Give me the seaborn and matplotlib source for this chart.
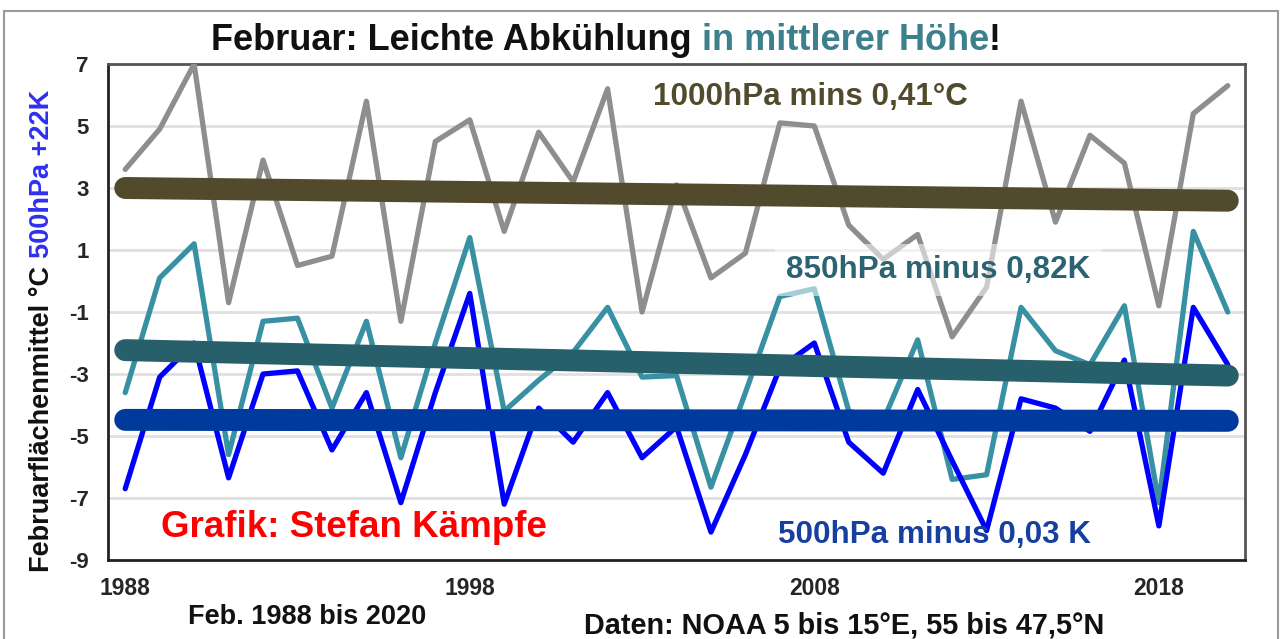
import numpy as np
import pandas as pd
import matplotlib
matplotlib.use("Agg")
import matplotlib.pyplot as plt
import seaborn as sns
from matplotlib.patches import Rectangle

# ---------------- data ----------------
years = list(range(1988, 2021))
t1000 = [3.6, 4.9, 7.0, -0.7, 3.9, 0.5, 0.8, 5.8, -1.3, 4.5, 5.2,
         1.6, 4.8, 3.2, 6.2, -1.0, 3.1, 0.1, 0.9, 5.1, 5.0,
         1.8, 0.7, 1.5, -1.8, -0.2, 5.8, 1.9, 4.7, 3.8, -0.8, 5.4, 6.3]
t850 = [-3.6, 0.1, 1.2, -5.6, -1.3, -1.2, -4.1, -1.3, -5.7, -2.0, 1.4,
        -4.2, -3.2, -2.3, -0.85, -3.1, -3.05, -6.65, -3.6, -0.5, -0.25,
        -4.2, -4.5, -1.9, -6.4, -6.25, -0.85, -2.25, -2.7, -0.8, -7.15, 1.6, -1.0]
t500 = [-6.7, -3.1, -2.0, -6.35, -3.0, -2.9, -5.45, -3.6, -7.15, -3.6, -0.4,
        -7.2, -4.1, -5.2, -3.6, -5.7, -4.7, -8.1, -5.6, -2.8, -2.0,
        -5.2, -6.2, -3.5, -5.8, -8.05, -3.8, -4.1, -4.85, -2.55, -7.9, -0.85, -2.7]
trend_years = [1988, 2020]
trend1000 = [3.0, 2.59]
trend850 = [-2.23, -3.05]
trend500 = [-4.48, -4.51]
yticks = list(range(-9, 8, 2))
xtick_label_years = [1988, 1998, 2008, 2018]
xtick_labels = ["1988", "1998", "2008", "2018"]

title_parts = ["Februar: Leichte Abkühlung ", "in mittlerer Höhe", "!"]
ylabel_parts = ["Februarflächenmittel °C ", "500hPa +22K"]
label1000 = "1000hPa mins 0,41°C"
label850 = "850hPa minus 0,82K"
label500 = "500hPa minus 0,03 K"
credit = "Grafik: Stefan Kämpfe"
period = "Feb. 1988 bis 2020"
source = "Daten: NOAA 5 bis 15°E, 55 bis 47,5°N"

# ---------------- style ----------------
sns.set_style("white")
plt.rcParams['font.family'] = ['Liberation Sans', 'DejaVu Sans']

W, H = 1283, 639
fig = plt.figure(figsize=(W / 100, H / 100), dpi=100)
ax = fig.add_axes([108 / W, 1 - 560 / H, (1245 - 108) / W, (560 - 64) / H])

c_gray = "#8e8e8e"
c_teal = "#3891a2"
c_blue = "#0000ff"
c_tr1000 = "#514a2d"
c_tr850 = "#275f6b"
c_tr500 = "#003a9c"

df = pd.DataFrame({"year": years, "t1000": t1000, "t850": t850, "t500": t500})
sns.lineplot(data=df, x="year", y="t1000", color=c_gray, lw=3.8, ax=ax, zorder=3)
sns.lineplot(data=df, x="year", y="t850", color=c_teal, lw=3.8, ax=ax, zorder=4)
sns.lineplot(data=df, x="year", y="t500", color=c_blue, lw=3.8, ax=ax, zorder=5)

tr = pd.DataFrame({"year": trend_years, "a": trend1000, "b": trend850, "c": trend500})
for col, colr in (("a", c_tr1000), ("b", c_tr850), ("c", c_tr500)):
    sns.lineplot(data=tr, x="year", y=col, color=colr, lw=15.8, ax=ax,
                 solid_capstyle="round", zorder=6)

ax.set_xlim(1987.5, 2020.5)
ax.set_ylim(-9, 7)
ax.set_yticks(yticks)
ax.set_yticklabels([str(v) for v in yticks], fontsize=16, fontweight="bold")
ax.set_xticks([y - 0.5 for y in xtick_label_years])
ax.set_xticklabels([])
ax.set_xticks(xtick_label_years, minor=True)
ax.set_xticklabels(xtick_labels, minor=True, fontsize=16.5, fontweight="bold")
ax.tick_params(axis="x", which="major", direction="out", length=8, width=1.5, color="#333333")
ax.tick_params(axis="x", which="minor", length=0, pad=12)
ax.tick_params(axis="y", direction="out", length=8, width=1.5, color="#333333", pad=6)
ax.set_xlabel("")
ax.set_ylabel("")
ax.grid(axis="y", color="#e0e0e0", lw=2)
ax.grid(axis="x", visible=False)
ax.set_axisbelow(True)
for side in ("left", "bottom"):
    ax.spines[side].set_color("#222222")
    ax.spines[side].set_linewidth(2)
for side in ("top", "right"):
    ax.spines[side].set_color("#555555")
    ax.spines[side].set_linewidth(2)

# in-plot labels
ax.text(2007.9, 5.94, label1000, color=c_tr1000, fontsize=22.6, fontweight="bold",
        ha="center", va="center", zorder=8)
ax.text(2011.6, 0.35, label850, color="#2b6373", fontsize=22.6, fontweight="bold",
        ha="center", va="center", zorder=8,
        bbox=dict(boxstyle="square,pad=0.35", fc="white", ec="none", alpha=0.55))
ax.text(2011.5, -8.2, label500, color="#173fa0", fontsize=22.6, fontweight="bold",
        ha="center", va="center", zorder=8)
ax.text(1994.64, -7.94, credit, color="#ff0000", fontsize=26.5, fontweight="bold",
        ha="center", va="center", zorder=8)

# figure frame
fig.patches.append(Rectangle((4 / W, -0.1), (1278 - 4) / W, 1.1 - 11 / H,
                             transform=fig.transFigure, fill=False,
                             ec="#9a9a9a", lw=1.5))

renderer = fig.canvas.get_renderer()

# multi-coloured title
x0 = 211
for txt, colr in zip(title_parts, ["#111111", "#3c7f8d", "#111111"]):
    t = fig.text(x0 / W, 1 - 40 / H, txt, color=colr, fontsize=26, fontweight="bold",
                 ha="left", va="center")
    bb = t.get_window_extent(renderer)
    x0 += bb.width

# multi-coloured y label
y0 = 572
for txt, colr in zip(ylabel_parts, ["#111111", "#2f2ff0"]):
    t = fig.text(42 / W, 1 - y0 / H, txt, color=colr, fontsize=19.5, fontweight="bold",
                 rotation=90, ha="center", va="bottom")
    bb = t.get_window_extent(renderer)
    y0 -= bb.height

fig.text(307 / W, 1 - 617 / H, period, fontsize=19.5, fontweight="bold",
         ha="center", va="center", color="#111111")
fig.text(844 / W, 1 - 625 / H, source, fontsize=20.8, fontweight="bold",
         ha="center", va="center", color="#111111")

fig.savefig("out.png", dpi=100)
